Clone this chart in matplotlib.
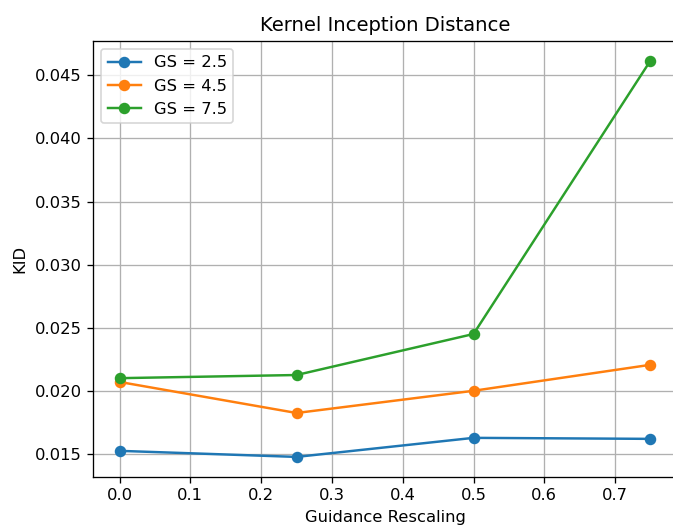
import numpy as np
import matplotlib
matplotlib.use('Agg')
import matplotlib.pyplot as plt

rescale = [0.0, 0.25, 0.5, 0.75]
kid_gs25 = [0.01524, 0.01476, 0.01627, 0.01619]
kid_gs45 = [0.0207, 0.01824, 0.0200, 0.02206]
kid_gs75 = [0.0210, 0.02125, 0.0245, 0.04617]
labels = ['GS = 2.5', 'GS = 4.5', 'GS = 7.5']

DPI = 118
fig = plt.figure(figsize=(673 / DPI, 527 / DPI), dpi=DPI)
ax = fig.add_axes([0.1382, 0.0954, 0.8678, 0.8273])

for vals, lab in zip([kid_gs25, kid_gs45, kid_gs75], labels):
    ax.plot(rescale, vals, marker='o', label=lab)

ax.set_title('Kernel Inception Distance')
ax.set_xlabel('Guidance Rescaling')
ax.set_ylabel('KID')
ax.legend(loc='upper left')
ax.grid(True)

fig.savefig('out.png', dpi=DPI)
